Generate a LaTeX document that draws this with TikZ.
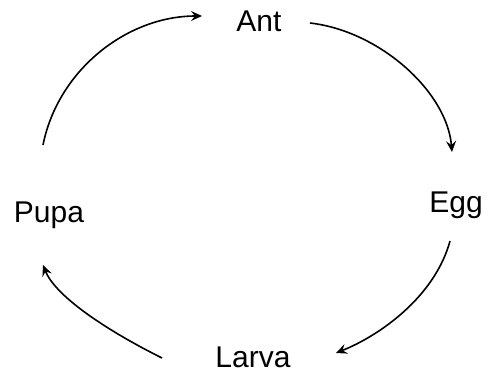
\documentclass[tikz,border=0pt]{standalone}
\usepackage{fontspec}
\setmainfont{Liberation Sans}
\usepackage{tikz}
\usetikzlibrary{arrows.meta}

\begin{document}
\begin{tikzpicture}[x=1pt,y=-1pt,>={Stealth[length=11pt,width=10pt,inset=4pt]},
  stage/.style={inner sep=0pt,anchor=base,font=\fontsize{30}{34}\selectfont},
  life/.style={->,line width=1.6pt}]
  \useasboundingbox (0,0) rectangle (495,385);
  \node[stage] (ant) at (259,32) {Ant};
  \node[stage] (egg) at (456,212) {Egg};
  \node[stage] (larva) at (253,367) {Larva};
  \node[stage] (pupa) at (49,222) {Pupa};
  % stages of the cycle, clockwise
  \draw[life] ([shift={(-6,-77)}]pupa.base) .. controls +(15,-75) and +(-75,0) .. ([shift={(-57,-16)}]ant.base);
  \draw[life] ([shift={(51,-9)}]ant.base) .. controls +(70,8) and +(-5,-60) .. ([shift={(-4,-60)}]egg.base);
  \draw[life] ([shift={(-6,29)}]egg.base) .. controls +(-15,55) and +(45,-18) .. ([shift={(83,-14)}]larva.base);
  \draw[life] ([shift={(-91,-9)}]larva.base) .. controls +(-60,-30) and +(12,30) .. ([shift={(-6,43)}]pupa.base);
\end{tikzpicture}
\end{document}
